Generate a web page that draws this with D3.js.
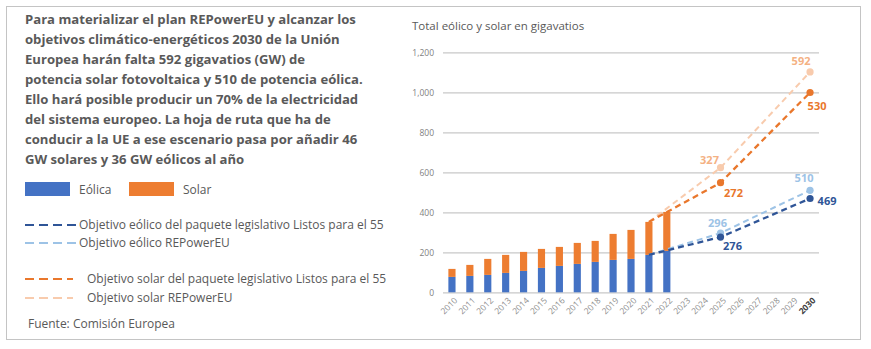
<!DOCTYPE html>
<html><head><meta charset="utf-8">
<script src="https://cdn.jsdelivr.net/npm/d3@7"></script>
<style>body{margin:0;background:#fff}svg{display:block}text{font-family:"Open Sans",sans-serif}</style>
</head><body><svg id="c" width="871" height="349"></svg>
<script>
const years = ["2010","2011","2012","2013","2014","2015","2016","2017","2018","2019","2020","2021","2022","2023","2024","2025","2026","2027","2028","2029","2030"];
const barYears = ["2010","2011","2012","2013","2014","2015","2016","2017","2018","2019","2020","2021","2022"];
const eolica = [77, 82, 87, 97, 107, 122, 132, 142, 152, 162, 167, 187, 207];
const solar  = [40, 55, 80, 90, 95, 95, 95, 105, 105, 130, 145, 165, 195];
const yTicks = [0, 200, 400, 600, 800, 1000, 1200];
// target lines: start at 2021, targets at 2025 and 2030
const targetYears = ["2021","2025","2030"];
const windF55 = [187, 276, 469];
const windREP = [187, 296, 510];
const solarF55 = [165, 272, 530];
const solarREP = [165, 327, 592];

const paragraph = [
 "Para materializar el plan REPowerEU y alcanzar los",
 "objetivos climático-energéticos 2030 de la Unión",
 "Europea harán falta 592 gigavatios (GW) de",
 "potencia solar fotovoltaica y 510 de potencia eólica.",
 "Ello hará posible producir un 70% de la electricidad",
 "del sistema europeo. La hoja de ruta que ha de",
 "conducir a la UE a ese escenario pasa por añadir 46",
 "GW solares y 36 GW eólicos al año"];

const svg = d3.select("#c");
svg.append("rect").attr("x",6.5).attr("y",6.5).attr("width",854).attr("height",333)
  .attr("fill","#fff").attr("stroke","#C4C4C4").attr("stroke-width",1);

// paragraph
const para = svg.append("g").attr("fill","#595959").attr("font-weight","bold");
para.selectAll("text").data(paragraph).join("text")
  .attr("x",25).attr("y",(d,i)=>24+i*20).attr("font-size",13).text(d=>d);
function fit(sel, target){
  let w = d3.max(sel.nodes(), n=>n.getComputedTextLength());
  const fs = +sel.attr("font-size");
  sel.attr("font-size", fs*target/w);
}
fit(para.selectAll("text"), 338);

// legend
const lg = svg.append("g");
const legTxt = [];
lg.append("rect").attr("x",25).attr("y",182).attr("width",45).attr("height",14).attr("fill","#4472C4");
legTxt.push(lg.append("text").attr("x",79).attr("y",194).text("Eólica"));
lg.append("rect").attr("x",129).attr("y",182).attr("width",45).attr("height",14).attr("fill","#ED7D31");
legTxt.push(lg.append("text").attr("x",183).attr("y",194).text("Solar"));
const legLines = [
  {y:225, c:"#2F5597", t:"Objetivo eólico del paquete legislativo Listos para el 55", tx:79},
  {y:243, c:"#9DC3E6", t:"Objetivo eólico REPowerEU", tx:79},
  {y:279, c:"#E9772C", t:"Objetivo solar del paquete legislativo Listos para el 55", tx:87},
  {y:298, c:"#F8CBAD", t:"Objetivo solar REPowerEU", tx:87}];
legLines.forEach(l=>{
  lg.append("line").attr("x1",25).attr("x2",l.tx===79?76:73).attr("y1",l.y).attr("y2",l.y)
    .attr("stroke",l.c).attr("stroke-width",2).attr("stroke-dasharray","9,5");
  legTxt.push(lg.append("text").attr("x",l.tx).attr("y",l.y+4).text(l.t));
});
legTxt.push(lg.append("text").attr("x",28).attr("y",328).text("Fuente: Comisión Europea"));
legTxt.forEach(t=>t.attr("font-size",11).attr("fill","#595959"));
{
  const t = legTxt[2]; const w = t.node().getComputedTextLength();
  legTxt.forEach(s=>s.attr("font-size",11*305/w));
}

// chart
const x = d3.scaleBand().domain(years).range([443,819]).paddingInner(0.6).paddingOuter(0.3);
const y = d3.scaleLinear().domain([0,1200]).range([292.3,52.3]);
const cx = d => x(d)+x.bandwidth()/2;

svg.append("text").attr("x",412).attr("y",30).attr("font-size",11.5).attr("fill","#595959")
  .text("Total eólico y solar en gigavatios");

const yAxis = svg.append("g").attr("transform","translate(443,0)")
  .call(d3.axisLeft(y).tickValues(yTicks).tickSize(-376).tickFormat(d3.format(",")).tickPadding(9));
yAxis.select(".domain").remove();
yAxis.selectAll(".tick line").attr("stroke","#C8C8C8").attr("stroke-width",1.3);
yAxis.selectAll(".tick text").attr("font-size",8.5).attr("fill","#7F7F7F").attr("font-family","Open Sans");

// bars
const bars = svg.append("g");
barYears.forEach((yr,i)=>{
  bars.append("rect").attr("x",x(yr)).attr("width",x.bandwidth())
    .attr("y",y(eolica[i])).attr("height",y(0)-y(eolica[i])).attr("fill","#4472C4");
  bars.append("rect").attr("x",x(yr)).attr("width",x.bandwidth())
    .attr("y",y(eolica[i]+solar[i])).attr("height",y(eolica[i])-y(eolica[i]+solar[i])).attr("fill","#ED7D31");
});

// x labels
const xl = svg.append("g");
years.forEach(yr=>{
  xl.append("text").attr("transform",`translate(${cx(yr)+4},${299}) rotate(-45)`)
    .attr("text-anchor","end").attr("dy","0.35em").attr("font-size",8.5)
    .attr("fill", yr==="2030"?"#404040":"#8C8C8C").attr("font-weight", yr==="2030"?"bold":"normal")
    .text(yr);
});

// target lines
const series = [
  {vals: solarREP, base: windREP, c:"#F8CBAD", lc:"#F4B183", w:2, lab:[[-11,-4],[-9,-7]]},
  {vals: solarF55, base: windF55, c:"#E9772C", lc:"#E9772C", w:2.3, lab:[[13,14],[7,17]]},
  {vals: windREP, base: null, c:"#9DC3E6", lc:"#9DC3E6", w:2, lab:[[-3,-6],[-6,-8]]},
  {vals: windF55, base: null, c:"#2F5597", lc:"#2F5597", w:2.3, lab:[[12,13],[17,6]]}
];
const line = d3.line().x(d=>cx(d.yr)).y(d=>y(d.v));
series.forEach(s=>{
  const pts = targetYears.map((yr,i)=>({yr, v: i===0 ? (s.base? eolica[11]+solar[11] : eolica[11]) : s.vals[i] + (s.base? s.base[i]:0), lbl: s.vals[i]}));
  svg.append("path").attr("d",line(pts)).attr("fill","none").attr("stroke",s.c)
    .attr("stroke-width",s.w).attr("stroke-dasharray","6,4");
  pts.slice(1).forEach((p,j)=>{
    svg.append("circle").attr("cx",cx(p.yr)).attr("cy",y(p.v)).attr("r",3.6).attr("fill",s.c);
    svg.append("text").attr("x",cx(p.yr)+s.lab[j][0]).attr("y",y(p.v)+s.lab[j][1])
      .attr("text-anchor","middle").attr("font-size",11).attr("font-weight","bold")
      .attr("fill",s.lc).text(p.lbl);
  });
});
</script></body></html>
